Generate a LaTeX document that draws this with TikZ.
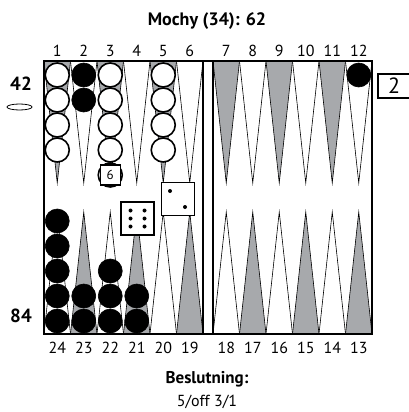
\documentclass[tikz,border=0pt]{standalone}
\usepackage{fontspec}
\setmainfont{PT Sans}
\definecolor{ptgrey}{RGB}{167,169,172}
\begin{document}
\begin{tikzpicture}[x=1pt,y=-1pt,
  pt/.style={draw=black,line width=0.6pt},
  wchk/.style={draw=black,fill=white,line width=1.6pt},
  bchk/.style={draw=black,fill=black,line width=0.6pt},
  die/.style={draw=black,fill=white,line width=1.8pt,minimum size=33pt,inner sep=0pt},
  num/.style={font=\fontsize{16}{18}\selectfont,inner sep=0pt}]
  \useasboundingbox (0,0) rectangle (408,412);
  \node[font=\fontsize{18}{20}\selectfont\bfseries] (title) at (207,21) {Mochy (34): 62};
  % points and numbers
  \foreach \i in {0,...,11}{
    \pgfmathsetmacro\x{44+26.5*\i+10*(\i>5)}
    \ifodd\i
      \filldraw[pt,fill=white] (\x,61) -- (\x+26.5,61) -- (\x+13.25,183) -- cycle;
      \filldraw[pt,fill=ptgrey] (\x,334) -- (\x+26.5,334) -- (\x+13.25,212) -- cycle;
    \else
      \filldraw[pt,fill=ptgrey] (\x,61) -- (\x+26.5,61) -- (\x+13.25,183) -- cycle;
      \filldraw[pt,fill=white] (\x,334) -- (\x+26.5,334) -- (\x+13.25,212) -- cycle;
    \fi
    \node[num] (top\i) at (\x+13.25,51) {\the\numexpr\i+1\relax};
    \node[num] (bot\i) at (\x+13.25,348) {\the\numexpr24-\i\relax};
  }
  \draw[line width=1.8pt] (44,61) rectangle (372,334);
  \draw[line width=1.8pt] (203,61) -- (203,334) (213,61) -- (213,334);
  % checkers
  \foreach \p/\n in {1/4,3/5,5/4}
    \foreach \k in {1,...,\n}
      \draw[wchk] ({44+26.5*(\p-1)+13.25},{50+25*\k}) circle (12pt);
  \foreach \p/\n in {2/2,12/1}
    \foreach \k in {1,...,\n}
      \draw[bchk] ({44+26.5*(\p-1)+13.25+10*(\p>6)},{50+25*\k}) circle (12pt);
  \foreach \p/\n in {24/5,23/2,22/3,21/2}
    \foreach \k in {1,...,\n}
      \draw[bchk] ({44+26.5*(24-\p)+13.25},{346-25*\k}) circle (12pt);
  \node[draw=black,fill=white,line width=1.4pt,minimum size=20pt,inner sep=0pt,
    font=\fontsize{13}{15}\selectfont] (cnt) at (110.25,175) {6};
  % dice
  \node[die] (dA) at (137.5,218.5) {};
  \foreach \dx in {-7,7}
    \foreach \dy in {-8,0,8}
      \fill (dA.center) ++(\dx,\dy) circle (2pt);
  \node[die] (dB) at (178,199) {};
  \fill (dB.center) ++(-8,-8) circle (2pt);
  \fill (dB.center) ++(7,8) circle (2pt);
  % cube and scores
  \node[draw=black,line width=1.4pt,minimum width=32pt,minimum height=24pt,inner sep=0pt,
    font=\fontsize{22}{24}\selectfont] (cube) at (394,86) {2};
  \node[font=\fontsize{19}{21}\selectfont\bfseries] (up) at (21,84) {42};
  \draw[line width=0.8pt] (19.5,107) ellipse (12.5pt and 3pt);
  \node[font=\fontsize{19}{21}\selectfont\bfseries] (down) at (21,316) {84};
  \node[font=\fontsize{17}{19}\selectfont\bfseries] (dec) at (207,379) {Beslutning:};
  \node[num] (move) at (207,402) {5/off 3/1};
\end{tikzpicture}
\end{document}
